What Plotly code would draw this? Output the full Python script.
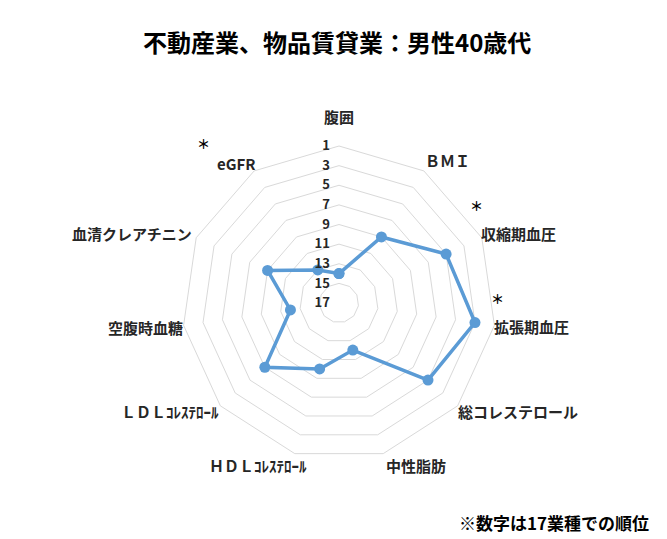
import plotly.graph_objects as go

# 17業種中の順位 (1が外側)
categories = ["腹囲", "ＢＭＩ", "収縮期血圧", "拡張期血圧", "総コレステロール", "中性脂肪",
              "ＨＤＬｺﾚｽﾃﾛｰﾙ", "ＬＤＬｺﾚｽﾃﾛｰﾙ", "空腹時血糖", "血清クレアチニン", "eGFR"]
ranks = [14, 9, 5, 3, 5, 12, 10, 7, 12, 9, 13]
tick_vals = [1, 3, 5, 7, 9, 11, 13, 15, 17]

title_text = "不動産業、物品賃貸業：男性40歳代"
note_text = "※数字は17業種での順位"

# 項目名の表示位置 (px, 元のエクセル図に合わせる)
label_pos = [(339, 117), (447, 160), (518, 233), (531, 326), (518, 411), (416, 465),
             (258, 465), (170, 411), (145, 327), (132, 233), (236, 163)]
star_pos = [(203, 144), (476, 206), (497, 298)]

FONT = "Noto Sans CJK JP"
W, H = 667, 539
OFF = 8  # ページ余白の分だけずらす
cx, cy, rad = 339 - OFF, 303 - OFF, 157


def px(x):
    return (x - OFF) / W


def py(y):
    return 1 - (y - OFF) / H


fig = go.Figure()

fig.add_trace(go.Scatterpolar(
    r=ranks + ranks[:1],
    theta=categories + categories[:1],
    mode="lines+markers",
    line=dict(color="#5b9bd5", width=3.5),
    marker=dict(color="#5b9bd5", size=11),
    showlegend=False,
    hovertemplate="%{theta}: %{r}位<extra></extra>",
))

fig.update_layout(
    width=W, height=H,
    paper_bgcolor="white",
    plot_bgcolor="white",
    margin=dict(l=0, r=0, t=0, b=0, autoexpand=False),
    font=dict(family=FONT, color="#262626"),
    polar=dict(
        domain=dict(x=[(cx - rad) / W, (cx + rad) / W],
                    y=[(H - cy - rad) / H, (H - cy + rad) / H]),
        gridshape="linear",
        bgcolor="white",
        radialaxis=dict(
            range=[17, 1],
            tickvals=tick_vals,
            ticktext=[str(v) for v in tick_vals],
            angle=90,
            tickangle=90,
            side="counterclockwise",
            showline=False,
            ticks="outside",
            ticklen=4,
            tickcolor="rgba(0,0,0,0)",
            gridcolor="#d9d9d9",
            gridwidth=1,
            tickfont=dict(size=13, family=FONT, color="#262626", weight="bold"),
        ),
        angularaxis=dict(
            rotation=90,
            direction="clockwise",
            showgrid=False,
            showline=True,
            linecolor="#d9d9d9",
            linewidth=1,
            ticks="",
            showticklabels=False,
        ),
    ),
)

for name, (lx, ly) in zip(categories, label_pos):
    fig.add_annotation(text=name, x=px(lx), y=py(ly), xref="paper", yref="paper",
                       xanchor="center", yanchor="middle", showarrow=False,
                       font=dict(size=15, family=FONT, color="#262626", weight="bold"))

fig.add_annotation(text=title_text, x=px(337), y=py(42), xref="paper", yref="paper",
                   xanchor="center", yanchor="middle", showarrow=False,
                   font=dict(size=24, family=FONT, color="#000000", weight="bold"))
fig.add_annotation(text=note_text, x=px(651), y=py(522), xref="paper", yref="paper",
                   xanchor="right", yanchor="middle", showarrow=False,
                   font=dict(size=17, family=FONT, color="#000000", weight="bold"))

# 有意差の印
for sx, sy in star_pos:
    fig.add_annotation(text="＊", x=px(sx), y=py(sy), xref="paper", yref="paper",
                       xanchor="center", yanchor="middle", showarrow=False,
                       font=dict(size=13, family=FONT, color="#000000", weight="bold"))

fig.add_shape(type="line", xref="paper", yref="paper", x0=0, x1=1, y0=py(3), y1=py(3),
              line=dict(color="#d9d9d9", width=1))

fig.write_html("out.html")
